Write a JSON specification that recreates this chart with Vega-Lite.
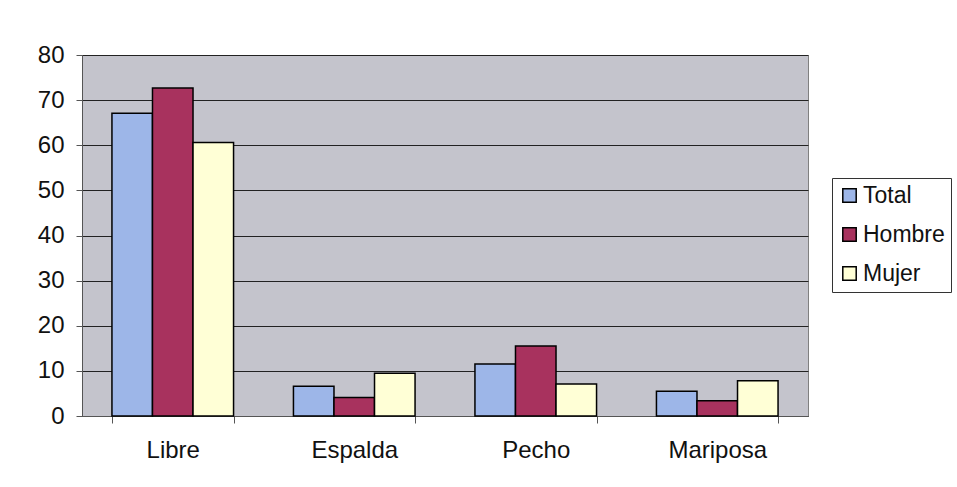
{
  "$schema": "https://vega.github.io/schema/vega-lite/v6.json",
  "autosize": {"type": "none"},
  "padding": {"left": 82, "top": 55, "right": 149, "bottom": 71},
  "width": 726,
  "height": 361,
  "background": "white",
  "data": {
    "values": [
      {"estilo": "Libre", "grupo": "Total", "valor": 67.1},
      {"estilo": "Libre", "grupo": "Hombre", "valor": 72.7},
      {"estilo": "Libre", "grupo": "Mujer", "valor": 60.6},
      {"estilo": "Espalda", "grupo": "Total", "valor": 6.6},
      {"estilo": "Espalda", "grupo": "Hombre", "valor": 4.1},
      {"estilo": "Espalda", "grupo": "Mujer", "valor": 9.5},
      {"estilo": "Pecho", "grupo": "Total", "valor": 11.5},
      {"estilo": "Pecho", "grupo": "Hombre", "valor": 15.5},
      {"estilo": "Pecho", "grupo": "Mujer", "valor": 7.1},
      {"estilo": "Mariposa", "grupo": "Total", "valor": 5.5},
      {"estilo": "Mariposa", "grupo": "Hombre", "valor": 3.4},
      {"estilo": "Mariposa", "grupo": "Mujer", "valor": 7.8}
    ]
  },
  "mark": {"type": "bar", "stroke": "black", "strokeWidth": 1.5},
  "encoding": {
    "x": {
      "field": "estilo",
      "type": "nominal",
      "sort": ["Libre", "Espalda", "Pecho", "Mariposa"],
      "scale": {"paddingInner": 0.33, "paddingOuter": 0.165},
      "axis": {
        "title": null,
        "labelAngle": 0,
        "labelFont": "Liberation Sans",
        "labelFontSize": 24,
        "labelColor": "#111",
        "labelPadding": 15,
        "tickBand": "extent",
        "tickSize": 7,
        "tickColor": "#555",
        "domainColor": "#555",
        "grid": false
      }
    },
    "xOffset": {
      "field": "grupo",
      "type": "nominal",
      "sort": ["Total", "Hombre", "Mujer"],
      "scale": {"paddingInner": 0, "paddingOuter": 0}
    },
    "y": {
      "field": "valor",
      "type": "quantitative",
      "scale": {"domain": [0, 80], "nice": false},
      "axis": {
        "title": null,
        "values": [0, 10, 20, 30, 40, 50, 60, 70, 80],
        "labelFont": "Liberation Sans",
        "labelFontSize": 24,
        "labelColor": "#111",
        "labelPadding": 12,
        "tickSize": 6,
        "tickColor": "#555",
        "domainColor": "#555",
        "grid": true,
        "gridColor": "#222",
        "gridWidth": 1,
        "gridOpacity": 1
      }
    },
    "color": {
      "field": "grupo",
      "type": "nominal",
      "sort": ["Total", "Hombre", "Mujer"],
      "scale": {
        "domain": ["Total", "Hombre", "Mujer"],
        "range": ["#9db6e8", "#a8325e", "#ffffd6"]
      },
      "legend": {
        "title": null,
        "orient": "none",
        "legendX": 750,
        "legendY": 123,
        "symbolType": "square",
        "symbolSize": 180,
        "symbolStrokeColor": "black",
        "symbolStrokeWidth": 1.5,
        "labelFont": "Liberation Sans",
        "labelFontSize": 23,
        "labelColor": "#111",
        "labelOffset": 2,
        "rowPadding": 15,
        "padding": 6,
        "strokeColor": "#333",
        "fillColor": "white"
      }
    }
  },
  "config": {
    "view": {"fill": "#c4c4cc", "stroke": "#808080"}
  }
}
